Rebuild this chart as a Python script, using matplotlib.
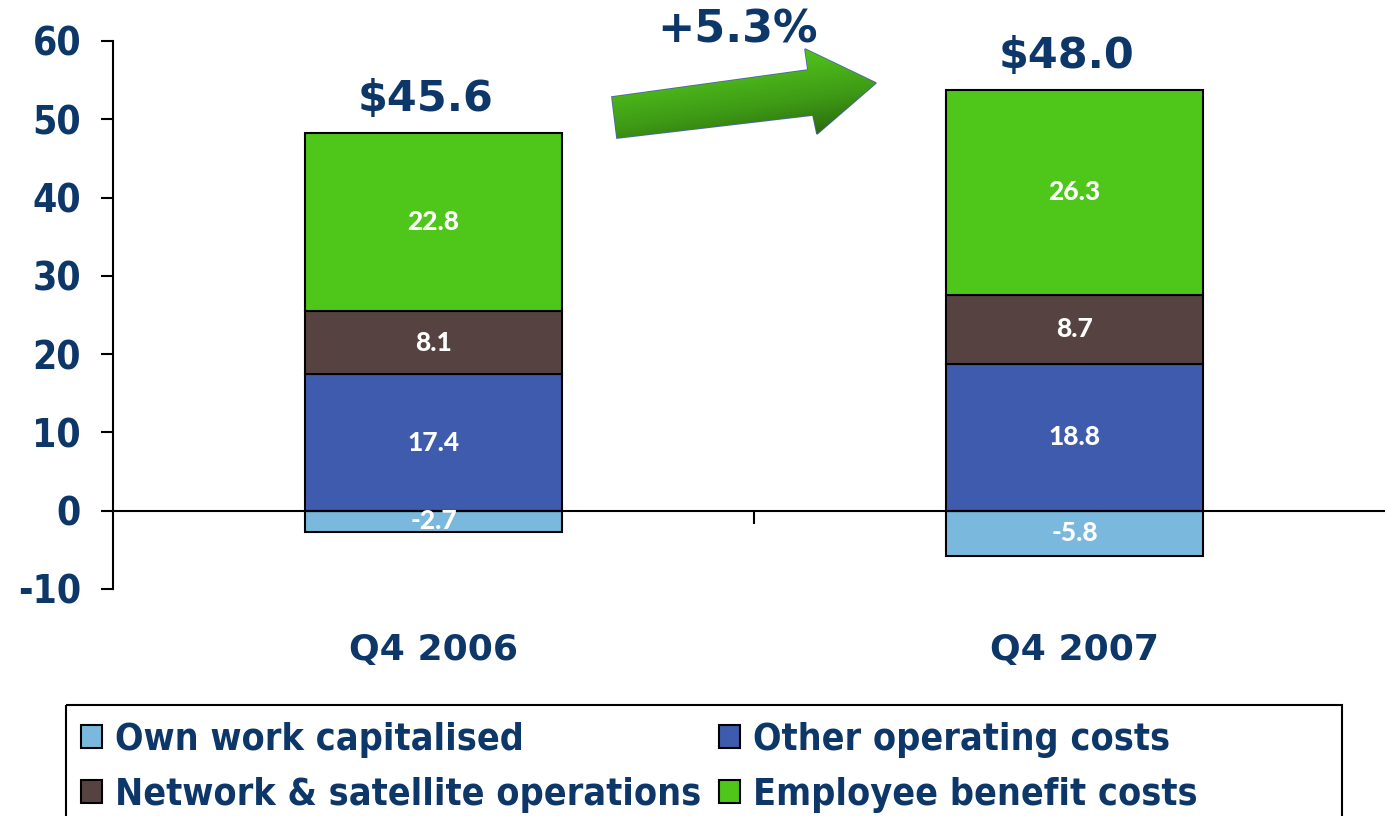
import matplotlib
matplotlib.use("Agg")
import matplotlib.pyplot as plt
import numpy as np
from matplotlib import font_manager
from matplotlib.patches import Polygon, Rectangle, Patch
from matplotlib.colors import LinearSegmentedColormap

plt.rcParams["axes.unicode_minus"] = False

categories = ["Q4 2006", "Q4 2007"]
own_work = [-2.7, -5.8]
other_costs = [17.4, 18.8]
network = [8.1, 8.7]
employee = [22.8, 26.3]
growth_label = "+5.3%"

series_names = ["Own work capitalised", "Other operating costs",
                "Network & satellite operations", "Employee benefit costs"]
colors = {"own": "#7AB9DD", "other": "#3F5BAE", "network": "#574242", "employee": "#4EC61A"}
navy = "#0D3768"

W, H = 1385, 816
fig = plt.figure(figsize=(W / 100, H / 100), dpi=100)

# axes placed so that -10..60 runs from y=589 to y=41 px
ax = fig.add_axes([113 / W, (H - 589) / H, (1395 - 113) / W, (589 - 41) / H])
x = np.arange(len(categories))
bw = 0.40
edge = dict(edgecolor="black", linewidth=1.5)

ax.bar(x, own_work, bw, color=colors["own"], **edge)
ax.bar(x, other_costs, bw, color=colors["other"], **edge)
b2 = np.array(other_costs)
ax.bar(x, network, bw, bottom=b2, color=colors["network"], **edge)
b3 = b2 + np.array(network)
ax.bar(x, employee, bw, bottom=b3, color=colors["employee"], **edge)
tops = b3 + np.array(employee)

lbl = dict(ha="center", va="center", color="white", fontsize=19,
           fontweight="black", family=["Lato", "DejaVu Sans"])
for i in range(len(x)):
    ax.text(x[i], own_work[i] / 2, f"{own_work[i]:.1f}", **lbl)
    ax.text(x[i], other_costs[i] / 2, f"{other_costs[i]:.1f}", **lbl)
    ax.text(x[i], b2[i] + network[i] / 2, f"{network[i]:.1f}", **lbl)
    ax.text(x[i], b3[i] + employee[i] / 2, f"{employee[i]:.1f}", **lbl)
    total = own_work[i] + other_costs[i] + network[i] + employee[i]
    ax.annotate(f"${total:.1f}", (x[i], tops[i]), xytext=(-6, 9),
                textcoords="offset points", ha="center", va="bottom",
                fontsize=31, fontweight="bold", color=navy, annotation_clip=False)
    ax.text(x[i], -17.8, categories[i], ha="center", va="center",
            fontsize=26, fontweight="bold", color=navy, clip_on=False)

ax.set_xlim(-0.5, 1.5)
ax.set_ylim(-10, 60)
ax.set_yticks(np.arange(-10, 61, 10))
ax.set_xticks([0.5])
ax.set_xticklabels([""])
ax.tick_params(axis="y", direction="out", length=9, width=1.5, pad=14,
               labelsize=28, labelcolor=navy)
ax.tick_params(axis="x", direction="out", length=9, width=1.5)
for lab in ax.get_yticklabels():
    lab.set_fontweight("bold")
    lab.set_fontstretch("condensed")
ax.spines["top"].set_visible(False)
ax.spines["right"].set_visible(False)
ax.spines["bottom"].set_position(("data", 0))
ax.spines["left"].set_linewidth(1.5)
ax.spines["bottom"].set_linewidth(1.5)
ax.patch.set_alpha(0)

# overlay in pixel coordinates for the arrow and legend frame
ov2 = fig.add_axes([0, 0, 1, 1], zorder=5)
ov2.axis("off")
ov2.patch.set_alpha(0)

arrow_pts = [(612, 97), (808, 70), (805, 49), (876, 83), (817, 134), (813, 115), (617, 138)]
poly = Polygon(arrow_pts, closed=True, facecolor="none", edgecolor="#4C64AE", linewidth=1.2)
ov2.add_patch(poly)
gx, gy = np.meshgrid(np.linspace(0, 1, 200), np.linspace(0, 1, 100))
grad = np.clip(0.8 * gy + 0.35 * gx - 0.05, 0, 1)
gcmap = LinearSegmentedColormap.from_list("g", ["#58CA20", "#4DBA1B", "#3E9A15", "#2A680E"])
im = ov2.imshow(grad, cmap=gcmap, extent=(605, 880, 140, 45), aspect="auto", zorder=1)
im.set_clip_path(poly)
ov2.set_xlim(0, W)
ov2.set_ylim(H, 0)
ov2.text(737, 30, growth_label, ha="center", va="center", fontsize=32,
         fontweight="bold", color=navy)

ov2.add_patch(Rectangle((66, 705), 1342 - 66, 200, facecolor="none",
                        edgecolor="black", linewidth=1.5, clip_on=False))

names = {f.name for f in font_manager.fontManager.ttflist}
if "Liberation Sans Narrow" in names:
    leg_font = dict(family="Liberation Sans Narrow", weight="bold", size=31)
else:
    leg_font = dict(family="DejaVu Sans", weight="bold", stretch="condensed", size=27)

handles = [Patch(facecolor=colors[k], edgecolor="black", linewidth=1.5)
           for k in ["own", "other", "network", "employee"]]
common = dict(loc="upper left", frameon=False, prop=leg_font, borderpad=0,
              borderaxespad=0, handlelength=0.55, handleheight=0.55,
              handletextpad=0.35, labelspacing=0.5, labelcolor=navy)
leg1 = fig.legend([handles[0], handles[2]], [series_names[0], series_names[2]],
                  bbox_to_anchor=(81 / W, 1 - 722 / H), **common)
leg2 = fig.legend([handles[1], handles[3]], [series_names[1], series_names[3]],
                  bbox_to_anchor=(719 / W, 1 - 722 / H), **common)

fig.savefig("out.png", dpi=100)
